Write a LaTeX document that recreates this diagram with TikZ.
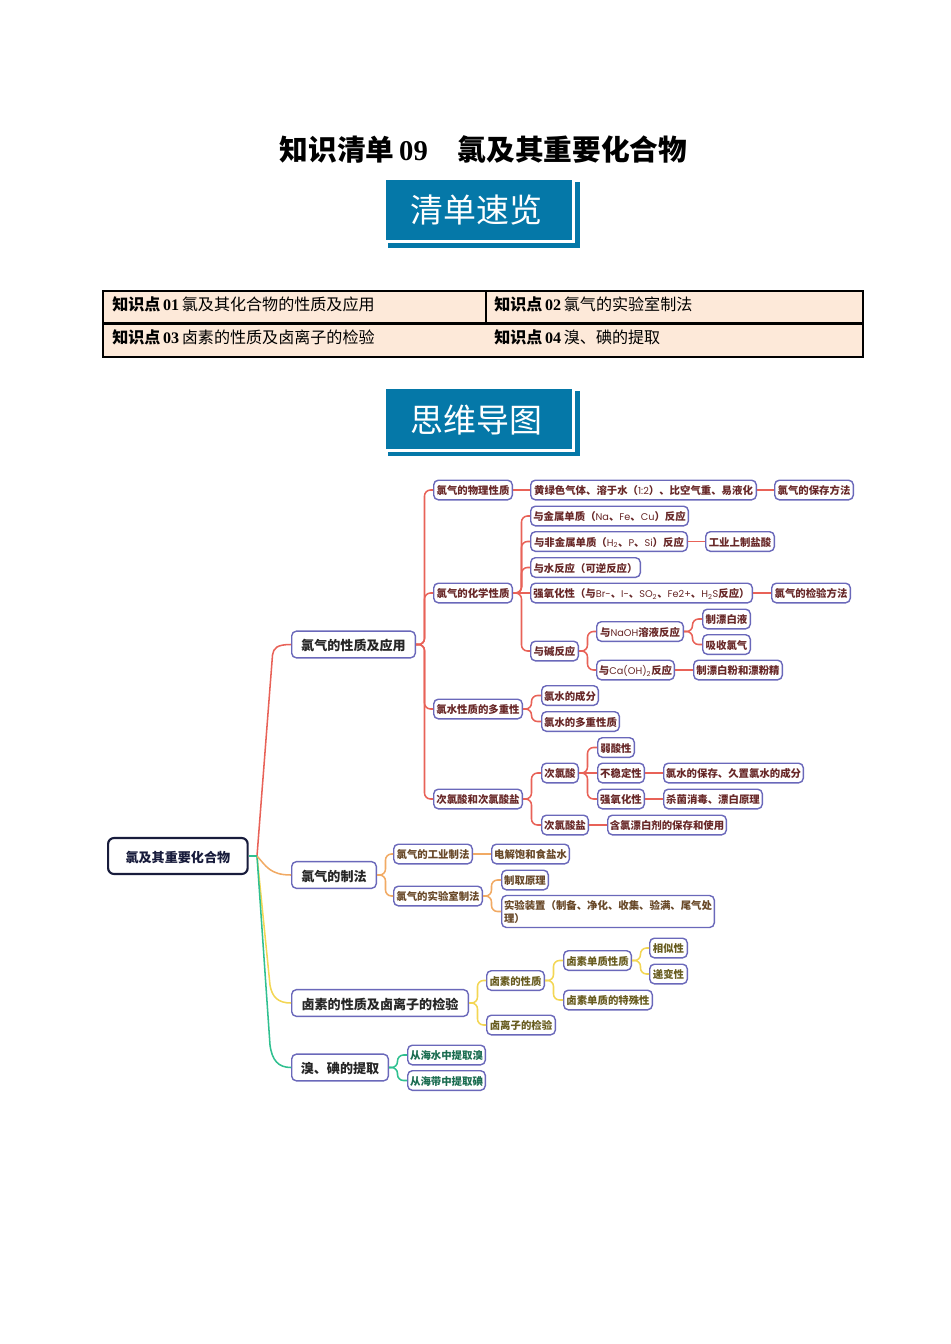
\documentclass[tikz,border=0pt]{standalone}
\usepackage{fontspec}
\usepackage{xcolor}
\setmainfont{Noto Sans CJK SC}
\newfontfamily\numfont{Liberation Serif}
\newfontfamily\latfont{Poppins}
\newcommand{\lat}[1]{{\mdseries\latfont\fontsize{7.3}{9.8}\selectfont #1}}
\definecolor{banner}{RGB}{5,120,168}
\definecolor{cellfill}{RGB}{253,233,217}
\definecolor{boxline}{RGB}{106,104,186}
\definecolor{rootline}{RGB}{24,28,60}
\definecolor{redline}{RGB}{232,98,88}
\definecolor{orangeline}{RGB}{241,170,100}
\definecolor{yellowline}{RGB}{243,214,84}
\definecolor{greenline}{RGB}{48,192,144}
\definecolor{redtext}{RGB}{104,40,40}
\definecolor{orangetext}{RGB}{104,72,40}
\definecolor{yellowtext}{RGB}{104,92,32}
\definecolor{greentext}{RGB}{26,108,80}
\tikzset{
  box/.style={draw=boxline,fill=white,line width=1.05pt,rounded corners=3.5pt,anchor=west,inner sep=0pt,
    text height=8pt,text depth=1pt,
    minimum width=#1*0.75pt-1.05pt,minimum height=14.7pt,font=\fontsize{7.8}{9.8}\selectfont\bfseries},
  redbox/.style={box=#1,text=redtext},
  orangebox/.style={box=#1,text=orangetext},
  yellowbox/.style={box=#1,text=yellowtext},
  greenbox/.style={box=#1,text=greentext},
  mainbox/.style={box=#1,minimum height=20pt,text=black!85,text height=10.5pt,text depth=1.5pt,font=\fontsize{9.8}{12}\selectfont\bfseries},
  rootbox/.style={mainbox=#1,draw=rootline,line width=1.6pt,minimum height=27pt,rounded corners=4.5pt,text=rootline},
  tabletext/.style={anchor=west,inner sep=0pt,font=\fontsize{12.05}{14}\selectfont},
  bannertext/.style={inner sep=0pt,text=white,font=\fontsize{24.7}{28}\selectfont},
  elbow/.style={rounded corners=4.5pt,to path={-- ++(8.5,0) |- (\tikztotarget)}},
  bus/.style={line width=1.15pt}
}
\begin{document}
\begin{tikzpicture}[x=0.75pt,y=0.75pt,yscale=-1,xscale=1]
    \useasboundingbox (0,0) rectangle (950,1344);
    % heading
    \node (title) [inner sep=0pt,font=\fontsize{21.5}{26}\selectfont\bfseries] at (483.5,149.3) {知识清单{\numfont\,09}\hspace{1.05em}氯及其重要化合物};
    % top banner
    \fill[banner] (388,243) rectangle (580,248);
    \fill[banner] (575,182) rectangle (580,248);
    \fill[banner] (386,180) rectangle (572,240);
    \node (bannerA) [bannertext] at (476.5,210) {清单速览};
    % table
    \draw[fill=cellfill,line width=1.9pt] (103,291) rectangle (863,357);
    \draw[line width=1.9pt] (103,323.5) -- (863,323.5);
    \draw[line width=1.5pt] (486,291) -- (486,323.5);
    \node (cellA) [tabletext] at (112,304) {\textbf{知识点}{\numfont\textbf{\,01\,}}氯及其化合物的性质及应用};
    \node (cellB) [tabletext] at (494,304) {\textbf{知识点}{\numfont\textbf{\,02\,}}氯气的实验室制法};
    \node (cellC) [tabletext] at (112,337) {\textbf{知识点}{\numfont\textbf{\,03\,}}卤素的性质及卤离子的检验};
    \node (cellD) [tabletext] at (494,337) {\textbf{知识点}{\numfont\textbf{\,04\,}}溴、碘的提取};
    % second banner
    \fill[banner] (388,452) rectangle (580,456);
    \fill[banner] (575,391) rectangle (580,456);
    \fill[banner] (386,389) rectangle (572,449);
    \node (bannerB) [bannertext] at (476.5,420) {思维导图};

    % root and main branches
    \node (root) [rootbox=141] at (107,856) {氯及其重要化合物};
    \coordinate (hub) at (257,856);
    \node (mainA) [mainbox=125] at (291,644.5) {氯气的性质及应用};
    \node (mainB) [mainbox=86] at (291,875) {氯气的制法};
    \node (mainC) [mainbox=178] at (291,1003) {卤素的性质及卤离子的检验};
    \node (mainD) [mainbox=98] at (291,1067.5) {溴、碘的提取};

    % red branch
    \node (phys) [redbox=80] at (433,490) {氯气的物理性质};
    \node (physA) [redbox=227] at (530,490) {黄绿色气体、溶于水（\lat{1:2}）、比空气重、易液化};
    \node (physB) [redbox=80] at (774,490) {氯气的保存方法};
    \node (chem) [redbox=80] at (433,593) {氯气的化学性质};
    \node (chemA) [redbox=159] at (530,516) {与金属单质（\lat{Na}、\lat{Fe}、\lat{Cu}）反应};
    \node (chemB) [redbox=158] at (530,541.5) {与非金属单质（\lat{H\textsubscript{2}}、\lat{P}、\lat{Si}）反应};
    \node (chemB1) [redbox=70] at (705,541.5) {工业上制盐酸};
    \node (chemC) [redbox=111] at (530,567.5) {与水反应（可逆反应）};
    \node (chemD) [redbox=223] at (530,593) {强氧化性（与\lat{Br-}、\lat{I-}、\lat{SO\textsubscript{2}}、\lat{Fe2+}、\lat{H\textsubscript{2}S}反应）};
    \node (chemD1) [redbox=80] at (771,593) {氯气的检验方法};
    \node (chemE) [redbox=49] at (530,651) {与碱反应};
    \node (naoh) [redbox=88] at (596,631.5) {与\lat{NaOH}溶液反应};
    \node (naohA) [redbox=49] at (702,619) {制漂白液};
    \node (naohB) [redbox=49] at (702,644.5) {吸收氯气};
    \node (caoh) [redbox=79] at (596,670) {与\lat{Ca(OH)\textsubscript{2}}反应};
    \node (caohA) [redbox=90] at (693,670) {制漂白粉和漂粉精};
    \node (water) [redbox=90] at (433,709) {氯水性质的多重性};
    \node (waterA) [redbox=58] at (541,695.5) {氯水的成分};
    \node (waterB) [redbox=79] at (541,721.5) {氯水的多重性质};
    \node (hypo) [redbox=90] at (433,799) {次氯酸和次氯酸盐};
    \node (acid) [redbox=38] at (541,773) {次氯酸};
    \node (acidA) [redbox=38] at (597,747.5) {弱酸性};
    \node (acidB) [redbox=48] at (597,773) {不稳定性};
    \node (acidB1) [redbox=141] at (663,773) {氯水的保存、久置氯水的成分};
    \node (acidC) [redbox=48] at (597,799) {强氧化性};
    \node (acidC1) [redbox=100] at (663,799) {杀菌消毒、漂白原理};
    \node (salt) [redbox=48] at (541,825) {次氯酸盐};
    \node (saltA) [redbox=120] at (607,825) {含氯漂白剂的保存和使用};

    % orange branch
    \node (indus) [orangebox=80] at (393,854) {氯气的工业制法};
    \node (indusA) [orangebox=79] at (491,854) {电解饱和食盐水};
    \node (lab) [orangebox=90] at (393,896) {氯气的实验室制法};
    \node (labA) [orangebox=48] at (501,880) {制取原理};
    \node (labB) [orangebox=214,minimum height=24pt,text height=17.8pt,align=left] at (501,911.5) {实验装置（制备、净化、收集、验满、尾气处\\理）};

    % yellow branch
    \node (halo) [yellowbox=59] at (486,980.5) {卤素的性质};
    \node (haloA) [yellowbox=69] at (563,960.5) {卤素单质性质};
    \node (haloA1) [yellowbox=39] at (649,948) {相似性};
    \node (haloA2) [yellowbox=39] at (649,974) {递变性};
    \node (haloB) [yellowbox=90] at (563,1000) {卤素单质的特殊性};
    \node (ion) [yellowbox=70] at (486,1025) {卤离子的检验};

    % green branch
    \node (seaA) [greenbox=79] at (407,1055) {从海水中提取溴};
    \node (seaB) [greenbox=79] at (407,1080.5) {从海带中提取碘};

    % links from the root
    \draw[bus,redline] (hub) -- (272.5,655) .. controls (273.5,648) and (277,644.5) .. (mainA.west);
    \draw[bus,yellowline] (hub) -- (270,985) .. controls (272,997) and (278,1003) .. (mainC.west);
    \draw[bus,greenline] (hub) -- (270,1045) .. controls (272,1060) and (278,1067.5) .. (mainD.west);
    \draw[bus,orangeline] (hub) .. controls (266,866) and (270,875) .. (mainB.west);
    \draw[bus,greenline] (root.east) -- (hub);

    % links of the red branch
    \draw[bus,redline] (mainA.east) to[elbow] (phys.west);
    \draw[bus,redline] (mainA.east) to[elbow] (chem.west);
    \draw[bus,redline] (mainA.east) to[elbow] (water.west);
    \draw[bus,redline] (mainA.east) to[elbow] (hypo.west);
    \draw[bus,redline] (phys.east) -- (physA.west);
    \draw[bus,redline] (physA.east) -- (physB.west);
    \draw[bus,redline] (chem.east) to[elbow] (chemA.west);
    \draw[bus,redline] (chem.east) to[elbow] (chemB.west);
    \draw[bus,redline] (chem.east) to[elbow] (chemC.west);
    \draw[bus,redline] (chem.east) -- (chemD.west);
    \draw[bus,redline] (chem.east) to[elbow] (chemE.west);
    \draw[bus,redline] (chemB.east) -- (chemB1.west);
    \draw[bus,redline] (chemD.east) -- (chemD1.west);
    \draw[bus,redline] (chemE.east) to[elbow] (naoh.west);
    \draw[bus,redline] (chemE.east) to[elbow] (caoh.west);
    \draw[bus,redline] (naoh.east) to[elbow] (naohA.west);
    \draw[bus,redline] (naoh.east) to[elbow] (naohB.west);
    \draw[bus,redline] (caoh.east) -- (caohA.west);
    \draw[bus,redline] (water.east) to[elbow] (waterA.west);
    \draw[bus,redline] (water.east) to[elbow] (waterB.west);
    \draw[bus,redline] (hypo.east) to[elbow] (acid.west);
    \draw[bus,redline] (hypo.east) to[elbow] (salt.west);
    \draw[bus,redline] (acid.east) to[elbow] (acidA.west);
    \draw[bus,redline] (acid.east) -- (acidB.west);
    \draw[bus,redline] (acid.east) to[elbow] (acidC.west);
    \draw[bus,redline] (acidB.east) -- (acidB1.west);
    \draw[bus,redline] (acidC.east) -- (acidC1.west);
    \draw[bus,redline] (salt.east) -- (saltA.west);

    % links of the other branches
    \draw[bus,orangeline] (mainB.east) to[elbow] (indus.west);
    \draw[bus,orangeline] (mainB.east) to[elbow] (lab.west);
    \draw[bus,orangeline] (indus.east) -- (indusA.west);
    \draw[bus,orangeline] (lab.east) to[elbow] (labA.west);
    \draw[bus,orangeline] (lab.east) to[elbow] (labB.west);
    \draw[bus,yellowline] (mainC.east) to[elbow] (halo.west);
    \draw[bus,yellowline] (mainC.east) to[elbow] (ion.west);
    \draw[bus,yellowline] (halo.east) to[elbow] (haloA.west);
    \draw[bus,yellowline] (halo.east) to[elbow] (haloB.west);
    \draw[bus,yellowline] (haloA.east) to[elbow] (haloA1.west);
    \draw[bus,yellowline] (haloA.east) to[elbow] (haloA2.west);
    \draw[bus,greenline] (mainD.east) to[elbow] (seaA.west);
    \draw[bus,greenline] (mainD.east) to[elbow] (seaB.west);
\end{tikzpicture}
\end{document}
